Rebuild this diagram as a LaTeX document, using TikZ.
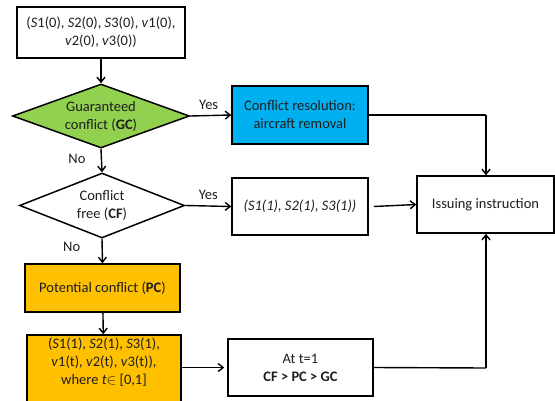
\documentclass[tikz,border=0pt]{standalone}
\usepackage{fontspec}
\setmainfont{Carlito}
\usetikzlibrary{shapes.geometric,arrows.meta}
\definecolor{gcgreen}{HTML}{92D050}
\definecolor{crblue}{HTML}{00B0F0}
\definecolor{pcorange}{HTML}{FFC000}
\definecolor{txt}{HTML}{1E1E1E}
\begin{document}
\begin{tikzpicture}[x=1pt,y=-1pt,
  every node/.style={font=\fontsize{14.5}{18}\selectfont, text=txt, align=center},
  box/.style={draw=black, line width=1.5pt, rectangle, inner sep=0pt},
  dia/.style={draw=black, line width=1.5pt, diamond, inner sep=0pt, aspect=2.77},
  arrf/.style={-{Straight Barb[length=5pt,width=8pt]}, line width=1.4pt},
  lin/.style={line width=1.4pt},
  lbl/.style={font=\fontsize{14.5}{16}\selectfont}
]
\useasboundingbox (0,0) rectangle (555,400);
\clip (0,0) rectangle (555,400);
\fill[white] (0,0) rectangle (555,400);

\node[box, minimum width=168pt, minimum height=51pt] (init) at (101,32.5)
  {(\textit{S}1(0), \textit{S}2(0), \textit{S}3(0), \textit{v}1(0),\\ \textit{v}2(0), \textit{v}3(0))};
\node[dia, fill=gcgreen, minimum width=177pt, minimum height=64pt] (gc) at (101,116)
  {Guaranteed\\conflict (\textbf{GC})};
\node[box, fill=crblue, minimum width=136pt, minimum height=58pt] (cr) at (300,115)
  {Conflict resolution:\\aircraft removal};
\node[dia, fill=white, minimum width=165pt, minimum height=65pt] (cf) at (102,205.5)
  {Conflict\\free (\textbf{CF})};
\node[box, minimum width=136pt, minimum height=57pt] (s1) at (300,206.5)
  {\itshape (S1(1), S2(1), S3(1))};
\node[box, minimum width=137pt, minimum height=57pt] (issue) at (485.5,204.5)
  {Issuing instruction};
\node[box, fill=pcorange, minimum width=155pt, minimum height=48pt] (pc) at (102.5,288)
  {Potential conflict (\textbf{PC})};
\node[box, fill=pcorange, minimum width=154pt, minimum height=80pt] (pcs) at (104,375)
  {(\textit{S}1(1), \textit{S}2(1), \textit{S}3(1),\\ \textit{v}1(t), \textit{v}2(t), \textit{v}3(t)),\\ where \textit{t}$\in$ [0,1]\\[10pt]};
\node[box, minimum width=145pt, minimum height=57pt] (at) at (300.5,367.5)
  {At t=1\\ \textbf{CF > PC > GC}};

\coordinate (j1) at (486,115);
\coordinate (j2) at (486,368);

\draw[arrf] (init) -- (gc);
\draw[arrf] (gc.east) -- (cr.west) node[lbl, pos=0.45, above=2pt] {Yes};
\draw[arrf] (gc.south) -- (cf.north) node[lbl, pos=0.45, left=12pt] {No};
\draw[arrf] (cf.east) -- (s1.west) node[lbl, pos=0.5, above=2pt] {Yes};
\draw[arrf] ([xshift=5pt]s1.east) -- (issue.west);
\draw[arrf] (cf.south) -- (pc.north) node[lbl, pos=0.35, left=18pt] {No};
\draw[arrf] (pc) -- (pcs);
\draw[arrf] (pcs.east |- at.west) -- ([xshift=-3pt]at.west);
\draw[lin] (cr.east) -- (j1);
\draw[arrf] (j1) -- (issue.north -| j1);
\draw[lin] (at.east) -- (j2);
\draw[arrf] (j2) -- (issue.south -| j2);
\end{tikzpicture}
\end{document}
